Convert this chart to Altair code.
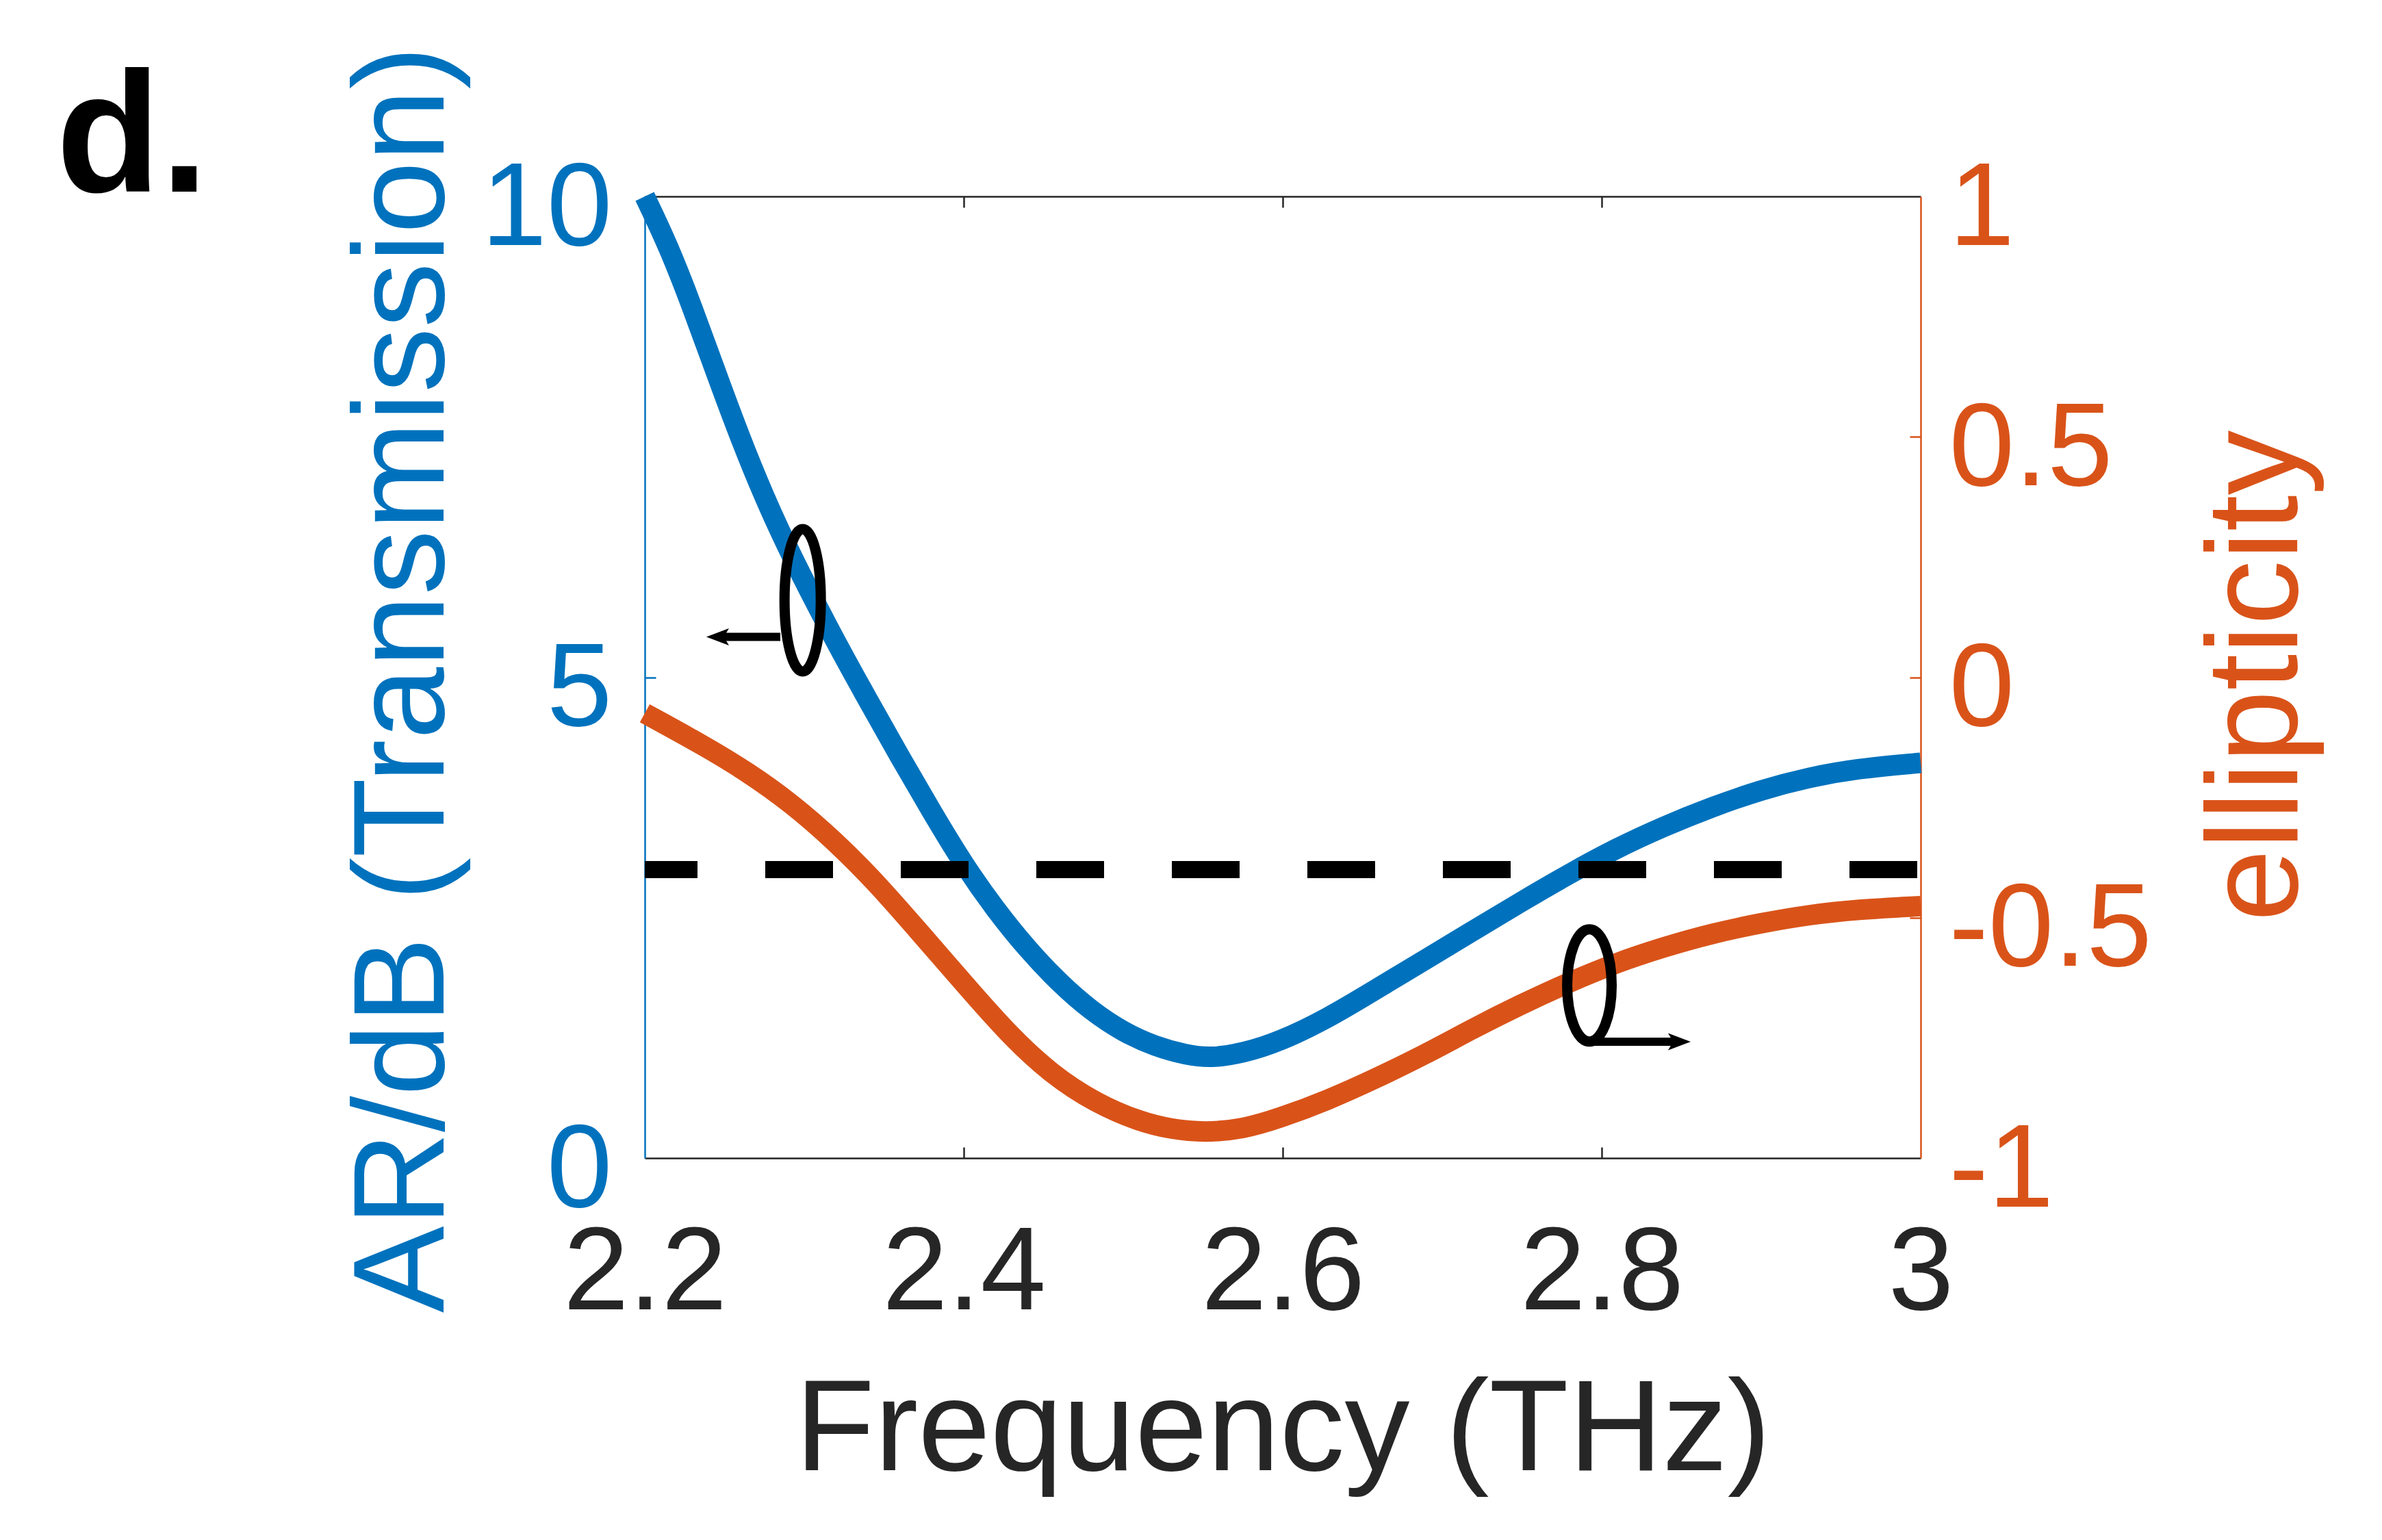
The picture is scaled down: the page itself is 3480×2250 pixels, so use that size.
import altair as alt
import pandas as pd

# ---------------- data ----------------
# AR (dB), left axis
freq_ar = [2.200, 2.215, 2.230, 2.245, 2.260, 2.275, 2.290, 2.305, 2.320, 2.340,
           2.360, 2.380, 2.400, 2.420, 2.440, 2.460, 2.480, 2.500, 2.520, 2.540,
           2.555, 2.575, 2.598, 2.628, 2.658, 2.689, 2.719, 2.749, 2.779, 2.809,
           2.839, 2.869, 2.900, 2.930, 2.960, 3.000]
ar_db = [10.00, 9.48, 8.84, 8.15, 7.48, 6.87, 6.33, 5.84, 5.36, 4.76,
         4.17, 3.60, 3.05, 2.58, 2.17, 1.82, 1.53, 1.31, 1.16, 1.07,
         1.04, 1.09, 1.21, 1.45, 1.75, 2.06, 2.36, 2.66, 2.95, 3.22,
         3.45, 3.65, 3.83, 3.96, 4.05, 4.11]

# ellipticity, right axis
freq_ell = [2.200, 2.237, 2.264, 2.292, 2.319, 2.346, 2.373, 2.401, 2.428, 2.455,
            2.483, 2.510, 2.530, 2.551, 2.575, 2.598, 2.628, 2.658, 2.689, 2.719,
            2.749, 2.779, 2.809, 2.839, 2.869, 2.900, 2.930, 2.960, 3.000]
ellipticity = [-0.075, -0.142, -0.196, -0.262, -0.340, -0.430, -0.533, -0.640, -0.742, -0.826,
               -0.886, -0.924, -0.940, -0.947, -0.940, -0.917, -0.880, -0.835, -0.785, -0.731,
               -0.681, -0.635, -0.594, -0.561, -0.533, -0.511, -0.494, -0.483, -0.476]

ar_threshold = [3]

# annotation anchors (data units)
ell_left_freq, ell_left_ar = [2.299], [5.80]
ell_right_freq, ell_right_ell = [2.7923], [-0.641]
arrow_left_from, arrow_left_to, arrow_left_ar = [2.285], [2.2457], [5.42]
arrow_right_from, arrow_right_to, arrow_right_ell = [2.7914], [2.8487], [-0.758]

# axis ticks
x_ticks = [2.2, 2.4, 2.6, 2.8, 3.0]
x_inner_ticks = [2.4, 2.6, 2.8]
ar_ticks = [0, 5, 10]
ar_inner_ticks = [5]
ell_ticks = [-1, -0.5, 0, 0.5, 1]
ell_inner_ticks = [-0.5, 0, 0.5]

# ---------------- styling ----------------
FONT = "Liberation Sans"
BLUE = "#0072BD"
ORANGE = "#D95319"
DARK = "#262626"
W, H = 1864, 1405
TICK = 16
LBL = 172
TTL = 190

df_ar = pd.DataFrame({"freq": freq_ar, "ar": ar_db})
df_ell = pd.DataFrame({"freq": freq_ell, "ell": ellipticity})
df_thr = pd.DataFrame({"ar": ar_threshold})
df_el_l = pd.DataFrame({"freq": ell_left_freq, "ar": ell_left_ar})
df_el_r = pd.DataFrame({"freq": ell_right_freq, "ell": ell_right_ell})
df_ar_l = pd.DataFrame({"f1": arrow_left_from, "f2": arrow_left_to, "ar": arrow_left_ar})
df_ar_r = pd.DataFrame({"f1": arrow_right_from, "f2": arrow_right_to, "ell": arrow_right_ell})

xs = alt.Scale(domain=[2.2, 3.0], nice=False, zero=False)
ys_ar = alt.Scale(domain=[0, 10], nice=False, zero=False)
ys_el = alt.Scale(domain=[-1, 1], nice=False, zero=False)


def inner_tick_axis(orient, values, color):
    return alt.Axis(orient=orient, offset=-TICK, values=values, ticks=True,
                    tickSize=TICK, tickWidth=2.5, tickColor=color, domain=False,
                    labels=False, title=None, grid=False)


x_main = alt.Axis(orient="bottom", values=x_ticks, labelExpr="'' + datum.value",
                  labelFlush=False, labelOverlap=False, labelLimit=2000,
                  labelFont=FONT, labelFontSize=LBL, labelColor=DARK,
                  labelBaseline="alphabetic", labelPadding=220, ticks=False,
                  tickSize=0, domain=True, domainColor=DARK, domainWidth=2.5,
                  grid=False, title="Frequency (THz)", titleFont=FONT,
                  titleFontSize=TTL, titleFontWeight="normal", titleColor=DARK,
                  titleLimit=4000, titleBaseline="alphabetic", titleAlign="center",
                  titleX=W / 2, titleY=455)

x_top_domain = alt.Axis(orient="top", ticks=False, tickSize=0, labels=False,
                        domain=True, domainColor=DARK, domainWidth=2.5,
                        title=None, grid=False)

y_left = alt.Axis(orient="left", values=ar_ticks, labelExpr="'' + datum.value",
                  labelOverlap=False, labelLimit=2000, labelFont=FONT,
                  labelFontSize=LBL, labelColor=BLUE, labelBaseline="alphabetic",
                  labelOffset=70, labelAlign="right", labelPadding=48,
                  ticks=False, tickSize=0, domain=True, domainColor=BLUE,
                  domainWidth=2.5, grid=False, title="AR/dB (Transmission)",
                  titleFont=FONT, titleFontSize=TTL, titleFontWeight="normal",
                  titleColor=BLUE, titleLimit=4000, titleAngle=270,
                  titleBaseline="alphabetic", titleAlign="center",
                  titleX=-295, titleY=705)

y_right = alt.Axis(orient="right", values=ell_ticks, labelExpr="'' + datum.value",
                   labelOverlap=False, labelLimit=2000, labelFont=FONT,
                   labelFontSize=LBL, labelColor=ORANGE,
                   labelBaseline="alphabetic", labelOffset=70, labelAlign="left",
                   labelPadding=41, ticks=False, tickSize=0, domain=True,
                   domainColor=ORANGE, domainWidth=2.5, grid=False,
                   title="ellipticity", titleFont=FONT, titleFontSize=TTL,
                   titleFontWeight="normal", titleColor=ORANGE, titleLimit=4000,
                   titleAngle=270, titleBaseline="alphabetic",
                   titleAlign="center", titleX=549, titleY=700)

k = 0.5523


def ellipse_path(rx):
    return (f"M0,-1 C{k*rx:.4f},-1 {rx},-{k:.4f} {rx},0 "
            f"C{rx},{k:.4f} {k*rx:.4f},1 0,1 "
            f"C-{k*rx:.4f},1 -{rx},{k:.4f} -{rx},0 "
            f"C-{rx},-{k:.4f} -{k*rx:.4f},-1 0,-1 Z")


HEAD_LEFT = "M-1,0 L1,-0.76 L0.55,0 L1,0.76 Z"
HEAD_RIGHT = "M1,0 L-1,-0.76 L-0.55,0 L-1,0.76 Z"

blue = alt.Chart(df_ar).mark_line(color=BLUE, strokeWidth=30, interpolate="basis").encode(
    x=alt.X("freq:Q", scale=xs, axis=x_main),
    y=alt.Y("ar:Q", scale=ys_ar, axis=y_left),
)

orange = alt.Chart(df_ell).mark_line(color=ORANGE, strokeWidth=30, interpolate="basis").encode(
    x=alt.X("freq:Q", scale=xs, axis=inner_tick_axis("bottom", x_inner_ticks, DARK)),
    y=alt.Y("ell:Q", scale=ys_el, axis=y_right),
)

thr = alt.Chart(df_thr).mark_rule(
    color="black", strokeWidth=25, strokeDash=[99, 99], strokeDashOffset=193
).encode(
    y=alt.Y("ar:Q", scale=ys_ar, axis=inner_tick_axis("left", ar_inner_ticks, BLUE)),
)

ell_l = alt.Chart(df_el_l).mark_point(
    shape=ellipse_path(0.255), filled=False, color="black", strokeWidth=15,
    opacity=1, size=43264,
).encode(
    x=alt.X("freq:Q", scale=xs, axis=x_top_domain),
    y=alt.Y("ar:Q", scale=ys_ar, axis=None),
)

ell_r = alt.Chart(df_el_r).mark_point(
    shape=ellipse_path(0.396), filled=False, color="black", strokeWidth=15,
    opacity=1, size=26896,
).encode(
    x=alt.X("freq:Q", scale=xs, axis=inner_tick_axis("top", x_inner_ticks, DARK)),
    y=alt.Y("ell:Q", scale=ys_el, axis=inner_tick_axis("right", ell_inner_ticks, ORANGE)),
)

arr_l = alt.Chart(df_ar_l).mark_rule(color="black", strokeWidth=12).encode(
    x=alt.X("f1:Q", scale=xs, axis=None),
    x2="f2:Q",
    y=alt.Y("ar:Q", scale=ys_ar, axis=None),
)
head_l = alt.Chart(df_ar_l).mark_point(
    shape=HEAD_LEFT, filled=True, color="black", opacity=1, size=1089, strokeWidth=0,
).encode(
    x=alt.X("f2:Q", scale=xs, axis=None),
    y=alt.Y("ar:Q", scale=ys_ar, axis=None),
)

arr_r = alt.Chart(df_ar_r).mark_rule(color="black", strokeWidth=12).encode(
    x=alt.X("f1:Q", scale=xs, axis=None),
    x2="f2:Q",
    y=alt.Y("ell:Q", scale=ys_el, axis=None),
)
head_r = alt.Chart(df_ar_r).mark_point(
    shape=HEAD_RIGHT, filled=True, color="black", opacity=1, size=1089, strokeWidth=0,
).encode(
    x=alt.X("f2:Q", scale=xs, axis=None),
    y=alt.Y("ell:Q", scale=ys_el, axis=None),
)

chart = alt.layer(
    blue, orange, thr, ell_l, ell_r, arr_l, head_l, arr_r, head_r
).resolve_scale(
    y="independent"
).resolve_axis(
    x="independent", y="independent"
).properties(
    width=W,
    height=H,
    title=alt.TitleParams(
        text="d.", anchor="start", frame="group", font=FONT, fontSize=250,
        fontWeight="bold", color="black", baseline="alphabetic", offset=0,
        dx=-860, dy=464,
    ),
    autosize=alt.AutoSizeParams(type="none"),
    padding={"left": 934, "top": 279, "right": 660, "bottom": 545},
    background="white",
).configure_view(stroke=None)

chart.save("out.html", embed_options={"renderer": "svg", "actions": False})
